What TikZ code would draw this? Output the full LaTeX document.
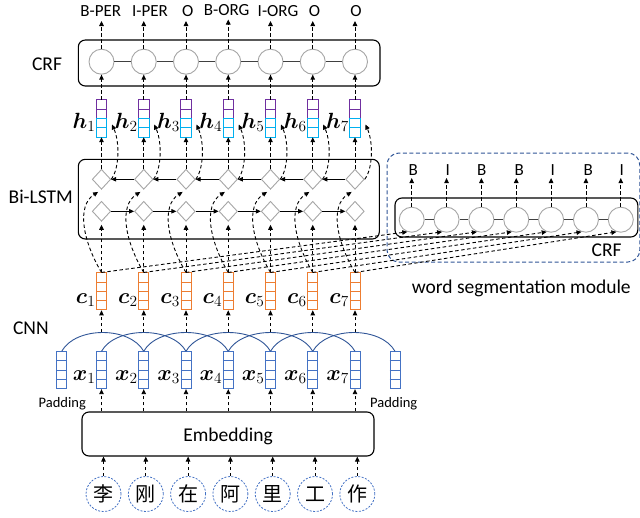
\RequirePackage{fix-cm}
\documentclass[tikz,border=0pt]{standalone}
\usepackage{bm}
\usepackage{fontspec}
\setmainfont{Carlito}
\newfontfamily\cjkfont{Noto Sans CJK SC}
\usetikzlibrary{arrows.meta,shapes.geometric,calc}
\definecolor{cpurple}{HTML}{7030A0}
\definecolor{ccyan}{HTML}{00B0F0}
\definecolor{corange}{HTML}{ED7D31}
\definecolor{cblue}{HTML}{4472C4}
\definecolor{carc}{HTML}{2F5597}
\definecolor{cgray}{HTML}{A6A6A6}
\definecolor{cdark}{HTML}{404040}
\newcommand{\tagsz}{\fontsize{17}{19}\selectfont}
\newcommand{\labsz}{\fontsize{19.5}{22}\selectfont}
\newcommand{\padsz}{\fontsize{14.5}{16}\selectfont}
\newcommand{\mathsz}{\fontsize{22}{24}\selectfont}
\newcommand{\cellsplit}[2]{%
  \foreach \q in {0.25,0.5,0.75}{%
    \draw[#2,line width=0.8pt] ($(#1.north west)!\q!(#1.south west)$) -- ($(#1.north east)!\q!(#1.south east)$);}}
\begin{document}
\begin{tikzpicture}[x=1pt,y=-1pt,
  blk/.style={draw=black,line width=1.1pt,rounded corners=7pt,inner sep=0pt},
  crfc/.style={circle,draw=cgray,line width=0.9pt,minimum size=25pt,inner sep=0pt,fill=white},
  dia/.style={diamond,draw=cgray,line width=0.9pt,minimum width=18.5pt,minimum height=20pt,inner sep=0pt,fill=white},
  darr/.style={-{Triangle[length=5pt,width=4.5pt]},line width=0.9pt,dash pattern=on 3.5pt off 2.5pt},
  sarr/.style={-{Triangle[length=5pt,width=4.5pt]},line width=1pt},
  clink/.style={draw=cdark,line width=1pt},
  vec/.style={minimum width=10pt,minimum height=37pt,inner sep=0pt},
  txt/.style={inner sep=0pt,font=\labsz},
  tagl/.style={inner sep=0pt,font=\tagsz,anchor=base},
  mlab/.style={inner sep=0.5pt,font=\mathsz,anchor=base east},
  chc/.style={circle,draw=cblue,line width=0.8pt,dash pattern=on 2pt off 1.5pt,minimum size=35pt,inner sep=0pt,font=\fontsize{20}{22}\selectfont\cjkfont}
]
\useasboundingbox (0,0) rectangle (640,517);

% ---------- big boxes ----------
\node[blk,minimum width=301.7pt,minimum height=46pt] (crfbox) at (229.15,63) {};
\node[blk,minimum width=301pt,minimum height=79.7pt] (lstmbox) at (228.8,199.15) {};
\node[draw=carc,line width=1pt,dash pattern=on 4pt off 2.5pt,rounded corners=12pt,minimum width=252.8pt,minimum height=109pt,inner sep=0pt] (wsbox) at (513.4,207.5) {};
\node[blk,minimum width=242.8pt,minimum height=39pt] (wscrfbox) at (516.4,217.5) {};
\node[blk,minimum width=292pt,minimum height=44pt,font=\labsz,text height=15.4pt,text depth=0pt] (emb) at (228,434) {Embedding};

% ---------- side labels ----------
\node[txt,anchor=base] (lcrf) at (47,70) {CRF};
\node[txt,anchor=base] (llstm) at (40.8,203.3) {Bi-LSTM};
\node[txt,anchor=base] (lcnn) at (30.8,334) {CNN};
\node[txt,anchor=base] (lwscrf) at (606.7,256.7) {CRF};
\node[txt,anchor=base] (lwsm) at (521.3,293.3) {word segmentation module};
\node[inner sep=0pt,font=\padsz,anchor=base] (padl) at (62.3,407) {Padding};
\node[inner sep=0pt,font=\padsz,anchor=base] (padr) at (393.7,407) {Padding};

% ---------- tag labels ----------
\node[tagl] (tl1) at (100.8,16.7) {B-PER};
\node[tagl] (tl2) at (150,16.7) {I-PER};
\node[tagl] (tl3) at (187.7,16.7) {O};
\node[tagl] (tl4) at (226.7,15.2) {B-ORG};
\node[tagl] (tl5) at (278,16.7) {I-ORG};
\node[tagl] (tl6) at (314.5,16.7) {O};
\node[tagl] (tl7) at (356,16.7) {O};

% ---------- padding boxes ----------
\node[vec,draw=cblue,line width=0.9pt] (xb0) at (61.7,370.2) {};
\node[vec,draw=cblue,line width=0.9pt] (xb8) at (395,370.2) {};
\cellsplit{xb0}{cblue}
\cellsplit{xb8}{cblue}

% ---------- columns ----------
\foreach \i/\X in {1/101.5,2/143.75,3/186,4/228.25,5/270.5,6/312.75,7/355}{
  \node[crfc] (t\i) at (\X,61.7) {};
  \node[dia] (ud\i) at (\X,179.3) {};
  \node[dia] (ld\i) at (\X,211.3) {};
  % h vector
  \node[vec] (h\i) at (\X,118.5) {};
  \draw[cpurple,line width=0.9pt] (h\i.north west) rectangle (h\i.east);
  \draw[ccyan,line width=0.9pt] (h\i.west) rectangle (h\i.south east);
  \draw[cpurple,line width=0.8pt] ($(h\i.north west)!0.25!(h\i.south west)$) -- ($(h\i.north east)!0.25!(h\i.south east)$);
  \draw[ccyan,line width=0.8pt] ($(h\i.north west)!0.75!(h\i.south west)$) -- ($(h\i.north east)!0.75!(h\i.south east)$);
  \coordinate (hb\i) at (\X+10.5,124.5);
  \node[mlab] (hl\i) at (\X-5.5,128.3) {$\bm{h}_{\i}$};
  % c vector
  \node[vec,draw=corange,line width=0.9pt] (c\i) at (\X,291.4) {};
  \cellsplit{c\i}{corange}
  \node[mlab] (cl\i) at (\X-5.5,303.5) {$\bm{c}_{\i}$};
  % cnn
  \coordinate (cn\i) at (\X,332);
  % x vector
  \node[vec,draw=cblue,line width=0.9pt] (xb\i) at (\X,370.2) {};
  \cellsplit{xb\i}{cblue}
  \node[mlab] (xl\i) at (\X-5.5,380) {$\bm{x}_{\i}$};
}

% ---------- word segmentation CRF ----------
\foreach \i/\X/\L/\LX in {1/411.7/B/413.3,2/446.55/I/447.7,3/481.4/B/481.7,4/516.25/B/519.3,5/551.1/I/552.7,6/585.95/B/588.3,7/620.8/I/621.7}{
  \node[crfc] (wsc\i) at (\X,219.7) {};
  \node[tagl] (wl\i) at (\LX,175) {\L};
}

% ---------- characters ----------
\foreach \i/\X/\C in {1/103.5/李,2/145.8/刚,3/188.1/在,4/230.4/阿,5/272.7/里,6/315/工,7/357.3/作}{
  \node[chc] (ch\i) at (\X,494) {\C};
}

% ---------- connectors ----------
\foreach \i/\j in {1/2,2/3,3/4,4/5,5/6,6/7}{
  \draw[clink] (t\i.east) -- (t\j.west);
  \draw[clink] (wsc\i.east) -- (wsc\j.west);
  \draw[sarr] (ld\i.east) -- (ld\j.west);
  \draw[sarr] (ud\j.west) -- (ud\i.east);
}

\foreach \i in {1,...,7}{
  \draw[darr,shorten >=4.3pt] (t\i.north) -- (t\i.north |- tl\i.base);
  \draw[darr,shorten >=3pt] (wsc\i.north) -- (wsc\i.north |- wl\i.base);
  \draw[darr] (h\i.north) -- (t\i.south);
  \draw[darr] (ud\i.north) -- (h\i.south);
  \draw[darr] (ud\i.east) .. controls +(8,-10) and +(8,18) .. (hb\i);
  \draw[darr,shorten >=3pt] (c\i.north) -- (ld\i.south);
  \draw[darr,shorten >=4pt] (c\i.north) .. controls +(-19,-32) and +(-25,16) .. (ud\i.south);
  \draw[darr] (c\i.north) -- (wsc\i.250);
  \draw[darr] (cn\i) -- (c\i.south);
  \draw[darr] (emb.north -| xb\i.south) -- (xb\i.south);
  \draw[darr] (ch\i.north) -- (emb.south -| ch\i.north);
}

% ---------- CNN arcs ----------
\foreach \j/\k in {0/2,1/3,2/4,3/5,4/6,5/7,6/8}{
  \draw[carc,line width=0.9pt] (xb\j.north) .. controls +(14,-25) and +(-14,-25) .. (xb\k.north);
}
\end{tikzpicture}
\end{document}
